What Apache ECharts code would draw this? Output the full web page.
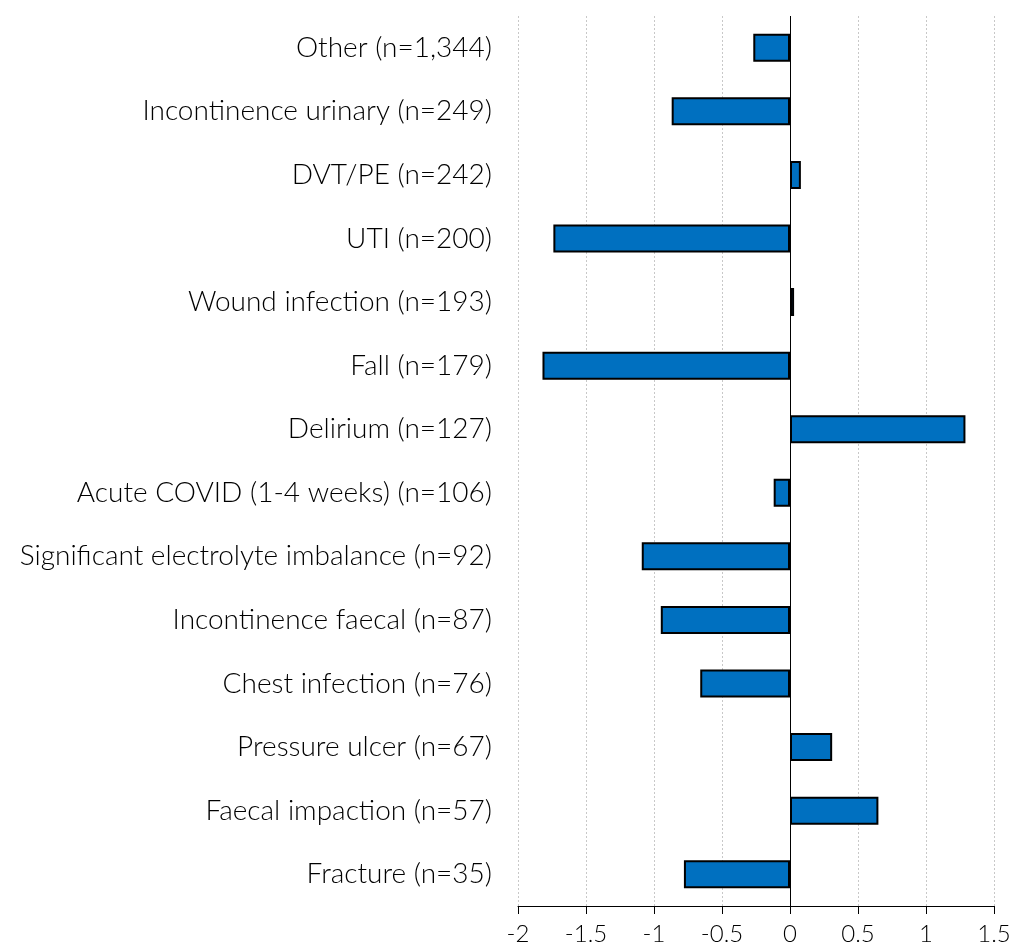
<!DOCTYPE html>
<html>
<head>
<meta charset="utf-8">
<script src="https://cdn.jsdelivr.net/npm/echarts@6/dist/echarts.min.js"></script>
<style>
  html, body { margin: 0; padding: 0; background: #fff; }
  #chart { width: 1028px; height: 952px; }
</style>
</head>
<body>
<div id="chart"></div>
<script>
const categories = [
  "Other (n=1,344)",
  "Incontinence urinary (n=249)",
  "DVT/PE (n=242)",
  "UTI (n=200)",
  "Wound infection (n=193)",
  "Fall (n=179)",
  "Delirium (n=127)",
  "Acute COVID (1-4 weeks) (n=106)",
  "Significant electrolyte imbalance (n=92)",
  "Incontinence faecal (n=87)",
  "Chest infection (n=76)",
  "Pressure ulcer (n=67)",
  "Faecal impaction (n=57)",
  "Fracture (n=35)"
];
const values = [-0.27, -0.87, 0.08, -1.74, 0.03, -1.82, 1.29, -0.12, -1.09, -0.95, -0.66, 0.31, 0.65, -0.78];

const font = "Lato, 'DejaVu Sans', sans-serif";

const chart = echarts.init(document.getElementById("chart"));
chart.setOption({
  animation: false,
  grid: { left: 518, right: 34, top: 16, bottom: 46 },
  xAxis: {
    type: "value",
    min: -2,
    max: 1.5,
    interval: 0.5,
    axisLine: { show: true, lineStyle: { color: "#000", width: 1 } },
    axisTick: { show: true, length: 8, lineStyle: { color: "#000" } },
    axisLabel: { color: "#000", fontSize: 24, fontWeight: 300, fontFamily: font, margin: 16 },
    splitLine: { show: true, lineStyle: { color: "#c8c8c8", type: [2, 2], width: 1 } }
  },
  yAxis: {
    type: "category",
    inverse: true,
    data: categories,
    axisLine: { show: false },
    axisTick: { show: false },
    axisLabel: { color: "#000", fontSize: 28, fontWeight: 300, fontFamily: font, margin: 26 }
  },
  series: [{
    type: "bar",
    data: values,
    barWidth: 28,
    itemStyle: { color: "#0070c0", borderColor: "#000", borderWidth: 2 },
    markLine: {
      silent: true,
      symbol: "none",
      label: { show: false },
      lineStyle: { color: "#000", type: "solid", width: 1 },
      data: [{ xAxis: 0 }]
    }
  }]
});
</script>
</body>
</html>
